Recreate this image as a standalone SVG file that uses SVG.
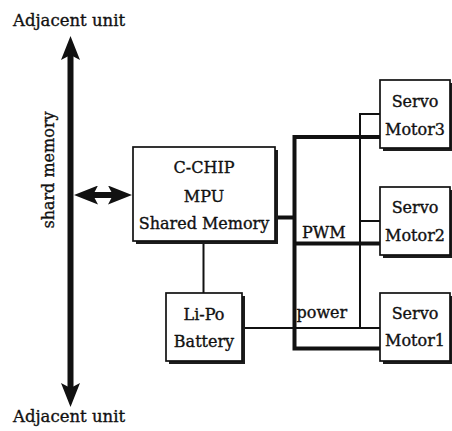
<svg xmlns="http://www.w3.org/2000/svg" width="452" height="431" viewBox="0 0 452 431">
  <defs>
    <!-- barbed arrowhead shared by the memory bus and the MPU link -->
    <marker id="barb" markerUnits="userSpaceOnUse" viewBox="0 0 24 19" markerWidth="24" markerHeight="19" refX="5" refY="9.5" orient="auto-start-reverse">
      <path d="M0,0 L24,9.5 L0,19 L5,9.5 z" fill="#111"/>
    </marker>
  </defs>
  <style>
    text { font-family: "DejaVu Serif", "Liberation Serif", serif; font-size: 16px; fill: #111; stroke: #111; stroke-width: 0.35; }
    .mid { text-anchor: middle; }
    .box { fill: #fff; stroke: #111; stroke-width: 1.7; }
    .shadow { fill: #1c1c1c; }
    .thick { fill: none; stroke: #111; stroke-width: 4; }
    .thin { fill: none; stroke: #111; stroke-width: 2; }
    .bus { fill: none; stroke: #111; stroke-width: 6; }
  </style>
  <rect width="452" height="431" fill="#fff"/>

  <!-- shared memory bus between adjacent units -->
  <g id="memory-bus">
    <line class="bus" x1="70.5" y1="55" x2="70.5" y2="388" marker-start="url(#barb)" marker-end="url(#barb)"/>
    <text x="13" y="26" style="font-size:16.5px">Adjacent unit</text>
    <text x="13" y="422" style="font-size:16.5px">Adjacent unit</text>
    <text class="mid" transform="translate(54,170) rotate(-90)">shard memory</text>
  </g>

  <!-- connectors -->
  <g id="connectors">
    <line class="bus" x1="93" y1="195" x2="113" y2="195" stroke-width="5" marker-start="url(#barb)" marker-end="url(#barb)"/>
    <path class="thick" d="M275,217.5 H294.5"/>
    <path class="thick" d="M380,137 H294.5 V348.5 H380 M294.5,243.5 H380"/>
    <path class="thin" d="M380,114 H360 V328 M360,221 H380 M242,328 H380"/>
    <path class="thin" d="M203.5,241 V293"/>
    <text x="302" y="238">PWM</text>
    <text x="296.5" y="318">power</text>
  </g>

  <g id="mpu">
    <rect class="shadow" x="136" y="150" width="142" height="94"/>
    <rect class="box" x="133" y="147" width="142" height="94"/>
    <text class="mid" x="204" y="173">C-CHIP</text>
    <text class="mid" x="204" y="202">MPU</text>
    <text class="mid" x="204" y="229">Shared Memory</text>
  </g>

  <g id="battery">
    <rect class="shadow" x="169" y="296" width="76" height="68"/>
    <rect class="box" x="166" y="293" width="76" height="68"/>
    <text class="mid" x="204" y="320">Li-Po</text>
    <text class="mid" x="204" y="347">Battery</text>
  </g>

  <g id="servo3">
    <rect class="shadow" x="383" y="83" width="70" height="68"/>
    <rect class="box" x="380" y="80" width="70" height="68"/>
    <text class="mid" x="415" y="106.5">Servo</text>
    <text class="mid" x="415" y="134.5">Motor3</text>
  </g>

  <g id="servo2">
    <rect class="shadow" x="383" y="190" width="70" height="68"/>
    <rect class="box" x="380" y="187" width="70" height="68"/>
    <text class="mid" x="415" y="212.5">Servo</text>
    <text class="mid" x="415" y="240.5">Motor2</text>
  </g>

  <g id="servo1">
    <rect class="shadow" x="383" y="296" width="70" height="68"/>
    <rect class="box" x="380" y="293" width="70" height="68"/>
    <text class="mid" x="415" y="318.5">Servo</text>
    <text class="mid" x="415" y="346">Motor1</text>
  </g>
</svg>
